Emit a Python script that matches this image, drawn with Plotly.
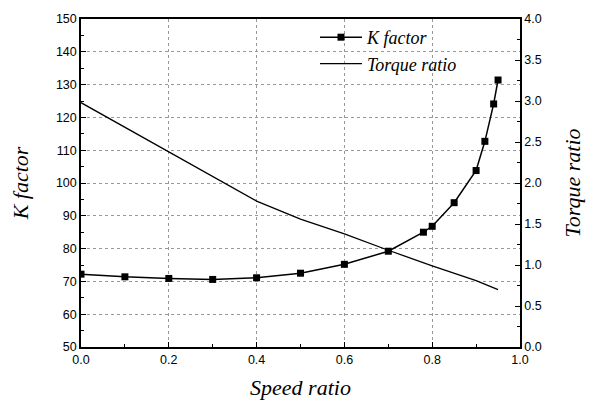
import plotly.graph_objects as go

speed_k = [0.0, 0.1, 0.2, 0.3, 0.4, 0.5, 0.6, 0.7, 0.78, 0.8, 0.85, 0.9, 0.92, 0.94, 0.95]
k_factor = [72.2, 71.4, 70.9, 70.6, 71.1, 72.5, 75.2, 79.2, 85.0, 86.8, 94.0, 103.8, 112.7, 124.1, 131.4]

speed_t = [0.0, 0.1, 0.2, 0.3, 0.4, 0.5, 0.6, 0.7, 0.8, 0.9, 0.95]
torque_ratio = [2.98, 2.68, 2.37, 2.07, 1.78, 1.56, 1.38, 1.18, 0.99, 0.81, 0.70]

serif = "Liberation Serif"

fig = go.Figure()
fig.add_trace(go.Scatter(
    x=speed_k, y=k_factor, name="K factor", mode="lines+markers",
    legendgroup="a",
    line=dict(color="black", width=1.5),
    marker=dict(symbol="square", size=7, color="black"),
))
fig.add_trace(go.Scatter(
    x=speed_t, y=torque_ratio, name="Torque ratio", mode="lines",
    legendgroup="b",
    line=dict(color="black", width=1.3), yaxis="y2",
))

axis_font = dict(family="Liberation Sans", size=12.5, color="black")
title_font = dict(family=serif, size=22, color="black", style="italic")

fig.update_layout(
    width=593, height=412,
    margin=dict(l=81, r=71, t=15, b=65),
    paper_bgcolor="white", plot_bgcolor="white",
    font=dict(family=serif),
    showlegend=True,
    legend=dict(
        x=0.533, y=1.0, xanchor="left", yanchor="top",
        bgcolor="rgba(0,0,0,0)",
        font=dict(family=serif, size=18, color="black", style="italic"),
        itemwidth=42, traceorder="grouped", tracegroupgap=0,
    ),
    xaxis=dict(
        range=[0, 1.0], tickmode="linear", tick0=0, dtick=0.2, tickformat=".1f",
        ticks="inside", ticklen=5, tickcolor="black",
        minor=dict(dtick=0.1, ticks="inside", ticklen=3, tickcolor="black"),
        showline=True, linecolor="black", linewidth=1.5, mirror=True,
        showgrid=True, gridcolor="#999", griddash="dot", gridwidth=1,
        zeroline=False, tickfont=axis_font,
        title=dict(text="Speed ratio", font=title_font, standoff=14),
    ),
    yaxis=dict(
        range=[50, 150], tickmode="linear", tick0=50, dtick=10,
        ticks="inside", ticklen=5, tickcolor="black",
        minor=dict(dtick=5, ticks="inside", ticklen=3, tickcolor="black"),
        showline=True, linecolor="black", linewidth=1.5,
        showgrid=True, gridcolor="#999", griddash="dot", gridwidth=1,
        zeroline=False, tickfont=axis_font,
        title=dict(text="K factor", font=title_font, standoff=21),
    ),
    yaxis2=dict(
        range=[0, 4], overlaying="y", side="right", tickmode="linear", tick0=0, dtick=0.5,
        tickformat=".1f",
        ticks="inside", ticklen=5, tickcolor="black",
        minor=dict(dtick=0.25, ticks="inside", ticklen=3, tickcolor="black"),
        showline=True, linecolor="black", linewidth=1.5,
        showgrid=False, zeroline=False, tickfont=axis_font,
        title=dict(text="Torque ratio", font=title_font, standoff=24),
    ),
)

fig.write_html("out.html")
